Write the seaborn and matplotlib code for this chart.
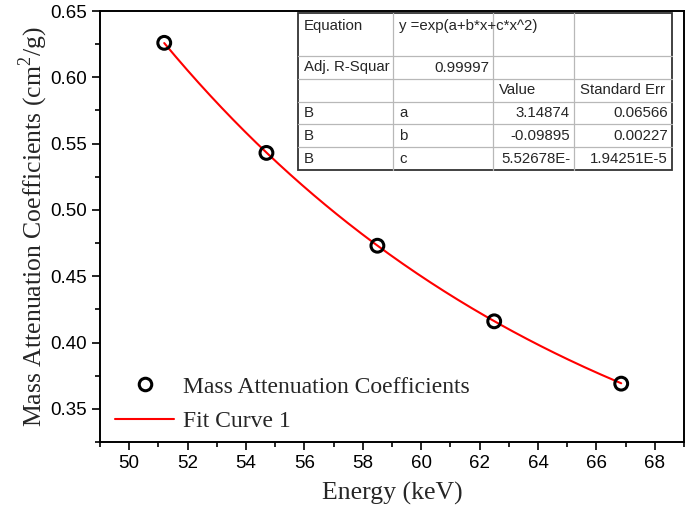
import numpy as np
import matplotlib
matplotlib.use("Agg")
import matplotlib.pyplot as plt
from matplotlib.lines import Line2D
from matplotlib.patches import Rectangle
import seaborn as sns

# measured points
energy = [51.2, 54.7, 58.5, 62.5, 66.85]
mac = [0.626, 0.543, 0.473, 0.416, 0.369]

# fit parameters as printed in the table, y = exp(a + b*x + c*x^2)
fit_a = 3.14874
fit_b = -0.09895
fit_c = 5.52678e-4

table_rows = [
    ["Equation", "y =exp(a+b*x+c*x^2)", "", ""],
    ["Adj. R-Squar", "0.99997", "", ""],
    ["", "", "Value", "Standard Err"],
    ["B", "a", "3.14874", "0.06566"],
    ["B", "b", "-0.09895", "0.00227"],
    ["B", "c", "5.52678E-", "1.94251E-5"],
]
x_ticks = [50, 52, 54, 56, 58, 60, 62, 64, 66, 68]
y_ticks = [0.35, 0.40, 0.45, 0.50, 0.55, 0.60, 0.65]

sns.set_style("ticks")
plt.rcParams["font.family"] = ["Liberation Sans", "DejaVu Sans"]
plt.rcParams["mathtext.fontset"] = "custom"
plt.rcParams["mathtext.rm"] = "Liberation Serif"
serif = ["Liberation Serif", "DejaVu Serif"]

W, H = 685, 511
fig = plt.figure(figsize=(W / 100, H / 100), dpi=100)
ax = fig.add_axes([100 / W, 1 - 442 / H, 584 / W, 431 / H])

xs = np.linspace(min(energy), max(energy), 200)
ys = np.exp(fit_a + fit_b * xs + fit_c * xs ** 2)
sns.lineplot(x=xs, y=ys, ax=ax, color="red", linewidth=1.5, zorder=2)
sns.scatterplot(x=energy, y=mac, ax=ax, marker="o", s=85, facecolors="none",
                edgecolor="black", linewidth=2.2, zorder=3)

ax.set_xlim(49, 69)
ax.set_ylim(0.325, 0.65)
ax.set_xticks(x_ticks)
ax.set_yticks(y_ticks)
ax.set_yticklabels([f"{v:.2f}" for v in y_ticks])
ax.set_xticks(np.arange(49, 70, 2), minor=True)
ax.set_yticks(np.arange(0.325, 0.65, 0.05), minor=True)
ax.tick_params(axis="both", which="major", direction="out", length=6, width=1.2,
               labelsize=13.5, color="black", labelcolor="black")
ax.tick_params(axis="both", which="minor", direction="out", length=3.5, width=1.2,
               color="black")
for s in ax.spines.values():
    s.set_visible(True)
    s.set_color("black")
    s.set_linewidth(1.4)

ax.set_xlabel("Energy (keV)", family=serif, fontsize=18.5, labelpad=7)
ax.set_ylabel("Mass Attenuation Coefficients (cm$^{2}$/g)", family=serif,
              fontsize=18.5, labelpad=0)

handles = [
    Line2D([], [], marker="o", linestyle="", markerfacecolor="none",
           markeredgecolor="black", markeredgewidth=2.2, markersize=9),
    Line2D([], [], color="red", linewidth=1.5),
]
ax.legend(handles, ["Mass Attenuation Coefficients", "Fit Curve 1"],
          loc="lower left", bbox_to_anchor=(0.002, -0.01), frameon=False,
          prop={"family": serif, "size": 17}, handlelength=2.5,
          handletextpad=0.35, labelspacing=0.55, borderaxespad=0.2)

# fit results table, laid out in figure pixels
col_x = [298, 393, 493, 574, 672]
row_y = [13, 56, 79, 102, 124, 147, 170]
right_cells = {(1, 1), (3, 2), (3, 3), (4, 2), (4, 3), (5, 2), (5, 3)}


def fx(p):
    return p / W


def fy(p):
    return 1 - p / H


fig.add_artist(Rectangle((fx(col_x[0]), fy(row_y[-1])),
                         fx(col_x[-1] - col_x[0]), (row_y[-1] - row_y[0]) / H,
                         transform=fig.transFigure, facecolor="white",
                         edgecolor="#333333", linewidth=1.3, zorder=6))
for x in col_x[1:-1]:
    fig.add_artist(Line2D([fx(x), fx(x)], [fy(row_y[0]), fy(row_y[-1])],
                          transform=fig.transFigure, color="#b8b8b8",
                          linewidth=0.9, zorder=7))
for y in row_y[1:-1]:
    fig.add_artist(Line2D([fx(col_x[0]), fx(col_x[-1])], [fy(y), fy(y)],
                          transform=fig.transFigure, color="#b8b8b8",
                          linewidth=0.9, zorder=7))
for r, row in enumerate(table_rows):
    ty = row_y[r] + 13 if r == 0 else (row_y[r] + row_y[r + 1]) / 2
    for c, val in enumerate(row):
        if not val:
            continue
        if (r, c) in right_cells:
            fig.text(fx(col_x[c + 1] - 4), fy(ty), val, ha="right", va="center",
                     fontsize=10.8, zorder=8)
        else:
            fig.text(fx(col_x[c] + 6), fy(ty), val, ha="left", va="center",
                     fontsize=10.8, zorder=8)

fig.savefig("out.png", dpi=100)
